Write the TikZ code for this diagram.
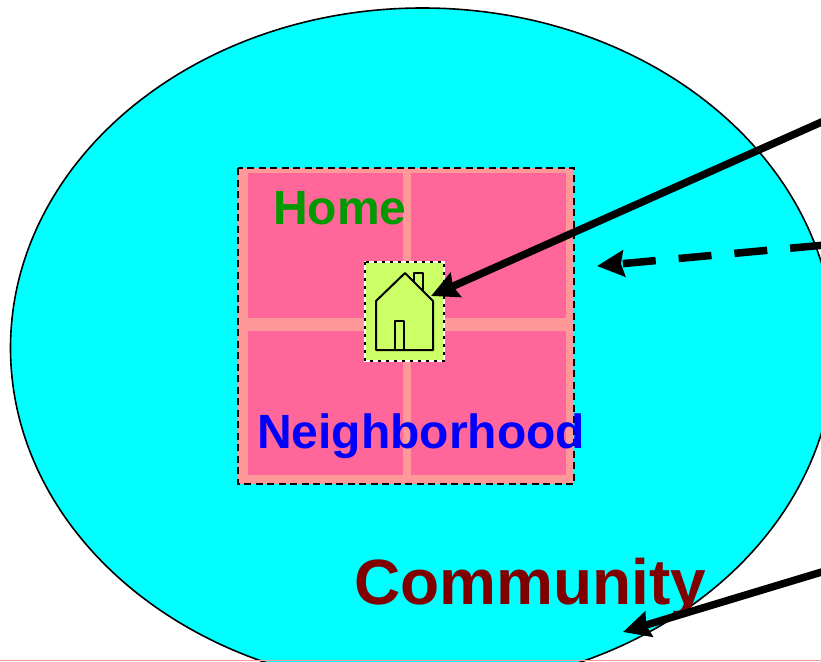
\documentclass[tikz,border=0pt]{standalone}
\usepackage{fontspec}
\setmainfont{Liberation Sans}
\usetikzlibrary{arrows.meta,shapes.geometric}
\definecolor{cyanfill}{HTML}{00FFFF}
\definecolor{salmonfill}{HTML}{FF9999}
\definecolor{pinkfill}{HTML}{FF6699}
\definecolor{limefill}{HTML}{CCFF66}
\definecolor{homegreen}{HTML}{009900}
\definecolor{commred}{HTML}{800000}
\tikzset{
  panel/.style={fill=pinkfill,draw=none},
  label/.style={anchor=base west,inner sep=0pt,font=\bfseries},
  pointer/.style={line width=7.5pt,-{Stealth[length=27pt,width=26pt,inset=3pt]}},
  housepart/.style={draw=black,line width=2pt,line join=round},
}
\begin{document}
\begin{tikzpicture}[x=1pt,y=-1pt]
\useasboundingbox (0,0) rectangle (821,661);
\fill[white] (0,0) rectangle (821,661);
\begin{scope}
\clip (0,0) rectangle (821,661);
\draw[fill=cyanfill,line width=1.6pt] (422.5,348) ellipse [x radius=412,y radius=340];
\fill[salmonfill] (0,660) rectangle (821,661);
\end{scope}
% neighbourhood block
\fill[salmonfill] (238,168) rectangle (574,484);
\fill[panel] (248,173) rectangle (403,318);
\fill[panel] (411,173) rectangle (566,318);
\fill[panel] (248,331) rectangle (403,475);
\fill[panel] (411,331) rectangle (566,475);
\draw[line width=1.8pt,dash pattern=on 7pt off 4.5pt] (238,168) rectangle (574,484);
% home block
\fill[limefill] (365,262) rectangle (444,361);
\draw[white,line width=2.6pt] (365,262) rectangle (444,361);
\draw[line width=2.6pt,dash pattern=on 3pt off 5pt] (365,262) rectangle (444,361);
\draw[housepart,fill=limefill] (414,283) -- (414,273) -- (423,273) -- (423,292);
\draw[housepart,fill=limefill] (405,273) -- (433,301) -- (433,350) -- (376,350) -- (376,301) -- cycle;
\draw[housepart] (395,350) -- (395,321) -- (404,321) -- (404,350);
% labels
\node[label,text=homegreen,font=\bfseries\fontsize{48pt}{50pt}\selectfont] (home) at (273,224) {Home};
\node[label,text=blue,font=\bfseries\fontsize{48pt}{50pt}\selectfont] (neigh) at (257,448) {Neighborhood};
\node[label,text=commred,font=\bfseries\fontsize{64pt}{66pt}\selectfont] (comm) at (354,604) {Community};
% pointers
\coordinate (a1s) at (825,120.5);
\coordinate (a1e) at (431,296);
\coordinate (a2s) at (825,245);
\coordinate (a2e) at (597,266);
\coordinate (a3s) at (825,571);
\coordinate (a3e) at (623,632);
\draw[pointer] (a1s) -- (a1e);
\draw[pointer,dash pattern=on 33pt off 23pt,dash phase=54pt] (a2s) -- (a2e);
\draw[pointer] (a3s) -- (a3e);
\end{tikzpicture}
\end{document}
